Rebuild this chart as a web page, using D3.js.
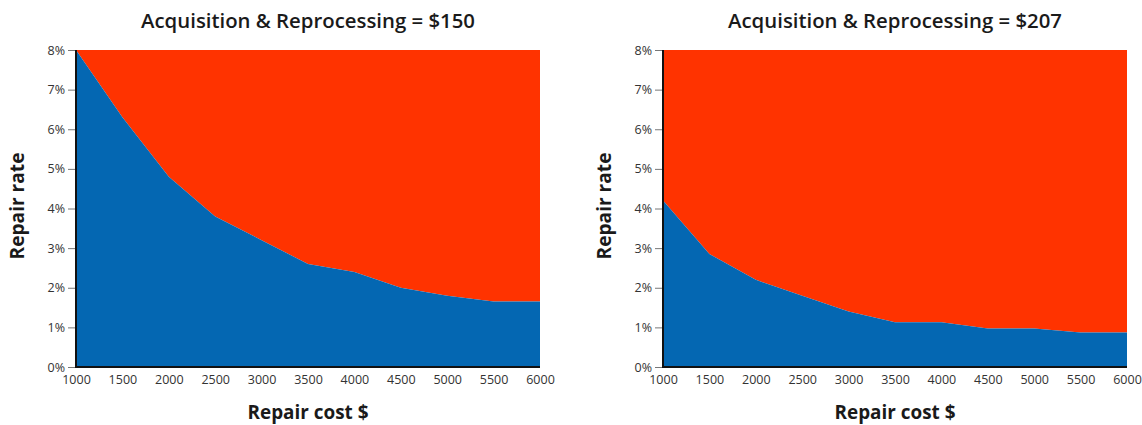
<!DOCTYPE html>
<html>
<head>
<meta charset="utf-8">
<script src="https://cdn.jsdelivr.net/npm/d3@7"></script>
<style>
  html, body { margin: 0; padding: 0; background: #fff; }
  svg { display: block; }
  text { font-family: "Open Sans", "Noto Sans", sans-serif; }
</style>
</head>
<body>
<svg id="chart" width="1142" height="425"></svg>
<script>
// ---- data ----
const repairCost = [1000, 1500, 2000, 2500, 3000, 3500, 4000, 4500, 5000, 5500, 6000];
const rate150 = [8.0, 6.3, 4.8, 3.8, 3.2, 2.6, 2.4, 2.0, 1.8, 1.65, 1.65];
const rate207 = [4.2, 2.85, 2.2, 1.8, 1.4, 1.13, 1.13, 0.97, 0.97, 0.87, 0.87];
const titles = ["Acquisition & Reprocessing = $150", "Acquisition & Reprocessing = $207"];
const xTicks = [1000, 1500, 2000, 2500, 3000, 3500, 4000, 4500, 5000, 5500, 6000];
const yTicks = [0, 1, 2, 3, 4, 5, 6, 7, 8];
const xLabel = "Repair cost $";
const yLabel = "Repair rate";

const BLUE = "#0467b2";
const RED = "#ff3300";

const svg = d3.select("#chart");

const panels = [
  { x0: 76, x1: 540, values: rate150, title: titles[0], ylabX: 24 },
  { x0: 663, x1: 1127, values: rate207, title: titles[1], ylabX: 611 }
];
const yTop = 50, yBottom = 367;

function fitText(sel, target) {
  const node = sel.node();
  const w = node.getComputedTextLength();
  const fs = parseFloat(sel.attr("font-size"));
  if (w > 0) sel.attr("font-size", (fs * target / w).toFixed(2));
}

panels.forEach(p => {
  const x = d3.scaleLinear().domain([1000, 6000]).range([p.x0, p.x1]);
  const y = d3.scaleLinear().domain([0, 8]).range([yBottom, yTop]);
  const data = repairCost.map((c, i) => ({ c, v: p.values[i] }));

  const g = svg.append("g");

  // red region (above curve)
  g.append("path")
    .datum(data)
    .attr("fill", RED)
    .attr("d", d3.area().x(d => x(d.c)).y0(y(8)).y1(d => y(d.v)));

  // blue region (below curve)
  g.append("path")
    .datum(data)
    .attr("fill", BLUE)
    .attr("d", d3.area().x(d => x(d.c)).y0(y(0)).y1(d => y(d.v)));

  // y axis
  const yAxis = g.append("g")
    .attr("transform", `translate(${p.x0},0)`)
    .call(d3.axisLeft(y).tickValues(yTicks).tickFormat(d => d + "%").tickSize(8).tickPadding(3));
  yAxis.select(".domain").remove();
  yAxis.selectAll(".tick line").attr("stroke", "#777").attr("stroke-width", 1);
  yAxis.selectAll(".tick text").attr("fill", "#333").attr("font-size", 12.5)
    .style("font-family", '"Open Sans", sans-serif');

  // x axis
  const xAxis = g.append("g")
    .attr("transform", `translate(0,${yBottom})`)
    .call(d3.axisBottom(x).tickValues(xTicks).tickFormat(d3.format("d")).tickSize(0).tickPadding(8));
  xAxis.select(".domain").remove();
  xAxis.selectAll(".tick text").attr("fill", "#333").attr("font-size", 12.5)
    .style("font-family", '"Open Sans", sans-serif');

  // axis lines
  g.append("line").attr("x1", p.x0).attr("x2", p.x0).attr("y1", yTop).attr("y2", yBottom + 1)
    .attr("stroke", "#111").attr("stroke-width", 2);
  g.append("line").attr("x1", p.x0 - 1).attr("x2", p.x1).attr("y1", yBottom).attr("y2", yBottom)
    .attr("stroke", "#111").attr("stroke-width", 2);

  // title
  const t = g.append("text")
    .attr("x", (p.x0 + p.x1) / 2).attr("y", 28)
    .attr("text-anchor", "middle").attr("font-size", 18).attr("font-weight", 600)
    .attr("fill", "#1a1a1a").text(p.title);
  fitText(t, 334);

  // x label
  const xl = g.append("text")
    .attr("x", (p.x0 + p.x1) / 2).attr("y", 419)
    .attr("text-anchor", "middle").attr("font-size", 19).attr("font-weight", 700)
    .attr("fill", "#1a1a1a").text(xLabel);
  fitText(xl, 121);

  // y label
  const yl = g.append("text")
    .attr("transform", `translate(${p.ylabX},${206}) rotate(-90)`)
    .attr("text-anchor", "middle").attr("font-size", 19).attr("font-weight", 700)
    .attr("fill", "#1a1a1a").text(yLabel);
  fitText(yl, 107);
});
</script>
</body>
</html>
